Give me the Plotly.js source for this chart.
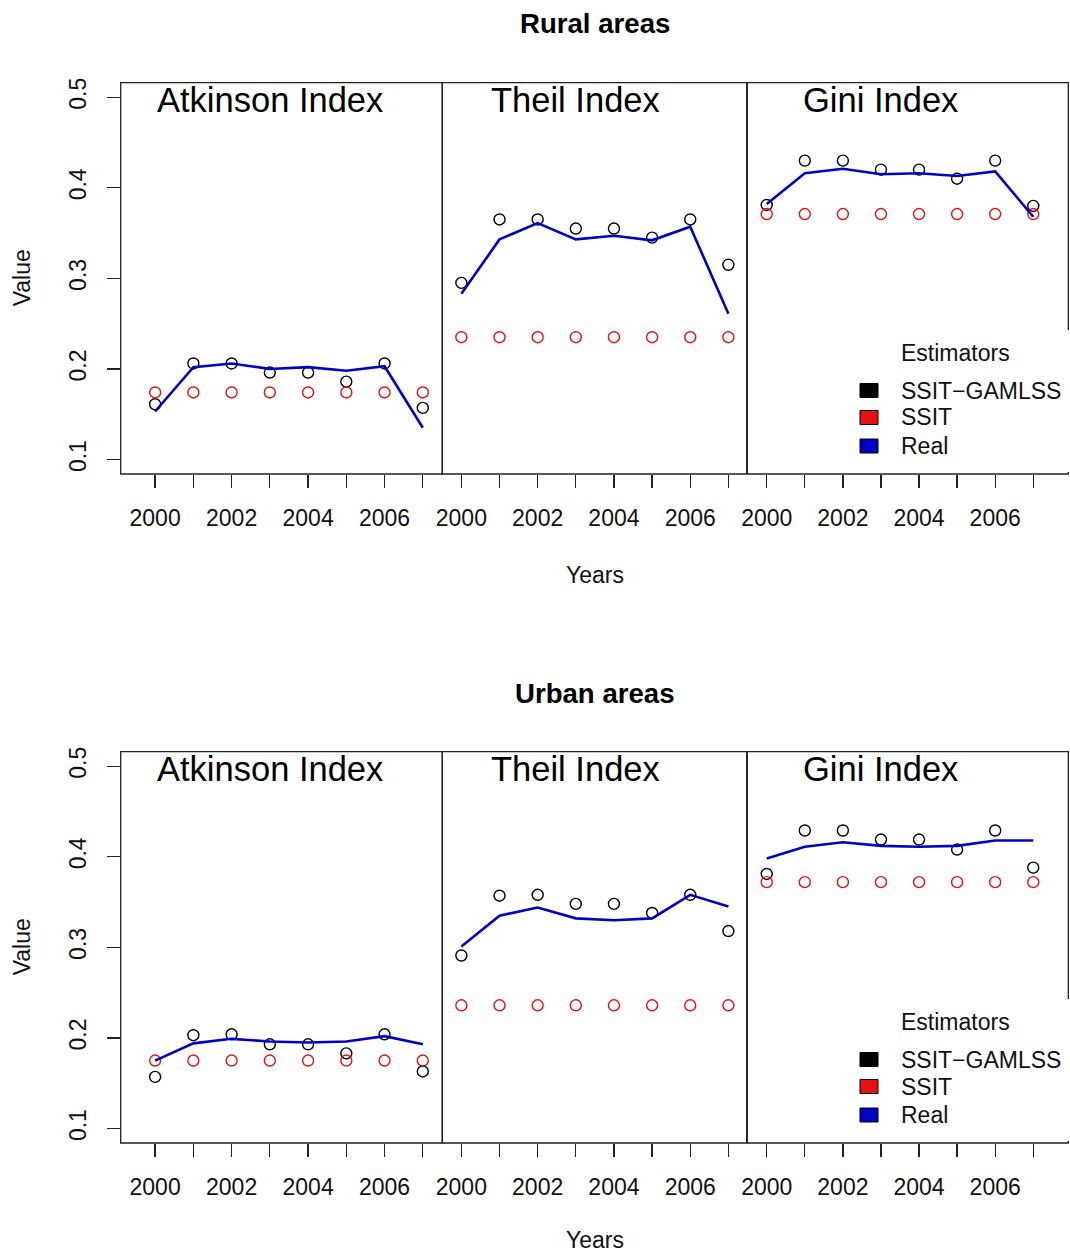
<!DOCTYPE html>
<html>
<head>
<meta charset="utf-8">
<script src="https://cdn.plot.ly/plotly-3.0.1.min.js"></script>
<style>html,body{margin:0;padding:0;background:#fff;}#chart{width:1070px;height:1255px;}</style>
</head>
<body>
<div id="chart"></div>
<script>
// ---------- data ----------
const years = [2000, 2001, 2002, 2003, 2004, 2005, 2006, 2007];
const yearLabels = ['2000', '', '2002', '', '2004', '', '2006', ''];
const valueTicks = [0.1, 0.2, 0.3, 0.4, 0.5];
const indexNames = ['Atkinson Index', 'Theil Index', 'Gini Index'];
const areaTitles = ['Rural areas', 'Urban areas'];
const legendTitle = 'Estimators';
const estimatorNames = ['SSIT\u2212GAMLSS', 'SSIT', 'Real'];

// Rural
const ruralAtkinsonGamlss = [0.161, 0.206, 0.206, 0.196, 0.196, 0.186, 0.206, 0.157];
const ruralAtkinsonSsit   = [0.174, 0.174, 0.174, 0.174, 0.174, 0.174, 0.174, 0.174];
const ruralAtkinsonReal   = [0.153, 0.202, 0.206, 0.200, 0.202, 0.198, 0.203, 0.135];
const ruralTheilGamlss = [0.295, 0.365, 0.365, 0.355, 0.355, 0.345, 0.365, 0.315];
const ruralTheilSsit   = [0.235, 0.235, 0.235, 0.235, 0.235, 0.235, 0.235, 0.235];
const ruralTheilReal   = [0.283, 0.343, 0.361, 0.343, 0.347, 0.342, 0.357, 0.261];
const ruralGiniGamlss = [0.381, 0.430, 0.430, 0.420, 0.420, 0.410, 0.430, 0.380];
const ruralGiniSsit   = [0.371, 0.371, 0.371, 0.371, 0.371, 0.371, 0.371, 0.371];
const ruralGiniReal   = [0.382, 0.416, 0.421, 0.415, 0.416, 0.413, 0.418, 0.368];

// Urban
const urbanAtkinsonGamlss = [0.157, 0.203, 0.204, 0.193, 0.193, 0.183, 0.204, 0.163];
const urbanAtkinsonSsit   = [0.175, 0.175, 0.175, 0.175, 0.175, 0.175, 0.175, 0.175];
const urbanAtkinsonReal   = [0.175, 0.194, 0.199, 0.196, 0.195, 0.196, 0.202, 0.193];
const urbanTheilGamlss = [0.291, 0.357, 0.358, 0.348, 0.348, 0.338, 0.358, 0.318];
const urbanTheilSsit   = [0.236, 0.236, 0.236, 0.236, 0.236, 0.236, 0.236, 0.236];
const urbanTheilReal   = [0.301, 0.335, 0.344, 0.332, 0.330, 0.332, 0.358, 0.345];
const urbanGiniGamlss = [0.381, 0.429, 0.429, 0.419, 0.419, 0.408, 0.429, 0.388];
const urbanGiniSsit   = [0.372, 0.372, 0.372, 0.372, 0.372, 0.372, 0.372, 0.372];
const urbanGiniReal   = [0.398, 0.411, 0.416, 0.412, 0.411, 0.412, 0.418, 0.418];

// ---------- layout helpers ----------
const W = 1070, H = 1255;
const px = v => v / W;
const py = v => 1 - v / H;
const FONT = 'Liberation Sans, Arial, Helvetica, sans-serif';
const BASE = 23;
const colors = {gamlss: '#000000', ssit: '#e81010', real: '#0000c8'};

const panelX = [[120.7, 442.3], [442.3, 746.7], [747.3, 1068.3]];
const panelRanges = [[1999.1, 2007.51], [1999.5, 2007.48], [1999.49, 2007.92]];
const rows = [{top: 82.7, bottom: 474}, {top: 751.7, bottom: 1143}];
const yRange = [0.084, 0.516];

const rowData = [
  [[ruralAtkinsonGamlss, ruralAtkinsonSsit, ruralAtkinsonReal],
   [ruralTheilGamlss, ruralTheilSsit, ruralTheilReal],
   [ruralGiniGamlss, ruralGiniSsit, ruralGiniReal]],
  [[urbanAtkinsonGamlss, urbanAtkinsonSsit, urbanAtkinsonReal],
   [urbanTheilGamlss, urbanTheilSsit, urbanTheilReal],
   [urbanGiniGamlss, urbanGiniSsit, urbanGiniReal]]
];

const traces = [];
const layout = {
  width: W, height: H,
  margin: {l: 0, r: 0, t: 0, b: 0},
  paper_bgcolor: '#fff', plot_bgcolor: '#fff',
  showlegend: false,
  font: {family: FONT, size: BASE, color: '#000'},
  shapes: [], annotations: []
};

rows.forEach((row, r) => {
  const yName = r === 0 ? 'y' : 'y2';
  const yKey = r === 0 ? 'yaxis' : 'yaxis2';
  layout[yKey] = {
    domain: [py(row.bottom), py(row.top)],
    range: yRange, anchor: r === 0 ? 'x' : 'x4',
    tickvals: valueTicks, ticktext: valueTicks.map(v => v.toFixed(1)),
    ticks: 'outside', ticklen: 13, tickwidth: 1.3, tickcolor: '#222',
    tickangle: -90, ticklabelstandoff: 12,
    showgrid: false, zeroline: false, showline: false,
    tickfont: {family: FONT, size: BASE, color: '#111'}, fixedrange: true
  };
  for (let p = 0; p < 3; p++) {
    const n = r * 3 + p + 1;
    const xName = n === 1 ? 'x' : 'x' + n;
    const xKey = n === 1 ? 'xaxis' : 'xaxis' + n;
    layout[xKey] = {
      domain: [px(panelX[p][0]), px(panelX[p][1])],
      range: panelRanges[p], anchor: yName,
      tickvals: years, ticktext: yearLabels,
      ticks: 'outside', ticklen: 13, tickwidth: 1.3, tickcolor: '#222',
      ticklabelstandoff: 10,
      showgrid: false, zeroline: false, showline: false,
      tickfont: {family: FONT, size: BASE, color: '#111'}, fixedrange: true
    };
    const [g, s, re] = rowData[r][p];
    traces.push({x: years, y: g, xaxis: xName, yaxis: yName, type: 'scatter', mode: 'markers',
      marker: {symbol: 'circle-open', size: 11, color: colors.gamlss, line: {width: 1.4, color: colors.gamlss}},
      name: estimatorNames[0]});
    traces.push({x: years, y: s, xaxis: xName, yaxis: yName, type: 'scatter', mode: 'markers',
      marker: {symbol: 'circle-open', size: 11, color: colors.ssit, line: {width: 1.4, color: colors.ssit}},
      name: estimatorNames[1]});
    traces.push({x: years, y: re, xaxis: xName, yaxis: yName, type: 'scatter', mode: 'lines',
      line: {color: colors.real, width: 2.6}, name: estimatorNames[2]});
    // panel box
    layout.shapes.push({type: 'rect', xref: xName + ' domain', yref: yName + ' domain',
      x0: 0, x1: 1, y0: 0, y1: 1, line: {color: '#222', width: 1.3}, fillcolor: 'rgba(0,0,0,0)'});
    // panel label
    layout.annotations.push({text: indexNames[p], xref: xName, yref: 'paper', x: 2003,
      y: py(row.top + 17), xanchor: 'center', yanchor: 'middle', showarrow: false,
      font: {family: FONT, size: BASE * 1.5, color: '#000'}});
  }
  const off = row.top - 82.7;
  // main title
  layout.annotations.push({text: '<b>' + areaTitles[r] + '</b>', xref: 'paper', yref: 'paper',
    x: px(594.5), y: py(24 + off), xanchor: 'center', yanchor: 'middle', showarrow: false,
    font: {family: FONT, size: BASE * 1.2, color: '#000'}});
  // axis titles
  layout.annotations.push({text: 'Years', xref: 'paper', yref: 'paper',
    x: px(594.5), y: py(Math.min(575 + off, 1240)), xanchor: 'center', yanchor: 'middle', showarrow: false,
    font: {family: FONT, size: BASE, color: '#111'}});
  layout.annotations.push({text: 'Value', xref: 'paper', yref: 'paper', textangle: -90,
    x: px(22), y: py((row.top + row.bottom) / 2), xanchor: 'center', yanchor: 'middle', showarrow: false,
    font: {family: FONT, size: BASE, color: '#111'}});
  // legend (white background over the box corner)
  layout.shapes.push({type: 'rect', xref: 'paper', yref: 'paper',
    x0: px(840), x1: px(1070), y0: py(472 + off), y1: py(330 + off),
    line: {width: 0}, fillcolor: '#fff'});
  layout.annotations.push({text: legendTitle, xref: 'paper', yref: 'paper',
    x: px(899), y: py(353 + off), xanchor: 'left', yanchor: 'middle', showarrow: false,
    font: {family: FONT, size: BASE, color: '#111'}});
  const legendColors = [colors.gamlss, colors.ssit, colors.real];
  const rowY = [390.5, 417.5, 446];
  estimatorNames.forEach((nm, i) => {
    const cy = rowY[i] + off;
    layout.shapes.push({type: 'rect', xref: 'paper', yref: 'paper',
      x0: px(860), x1: px(878), y0: py(cy + 7), y1: py(cy - 7),
      line: {color: '#000', width: 1}, fillcolor: legendColors[i]});
    layout.annotations.push({text: nm, xref: 'paper', yref: 'paper',
      x: px(899), y: py(cy), xanchor: 'left', yanchor: 'middle', showarrow: false,
      font: {family: FONT, size: BASE, color: '#111'}});
  });
});

Plotly.newPlot('chart', traces, layout, {displayModeBar: false, staticPlot: true});
</script>
</body>
</html>
